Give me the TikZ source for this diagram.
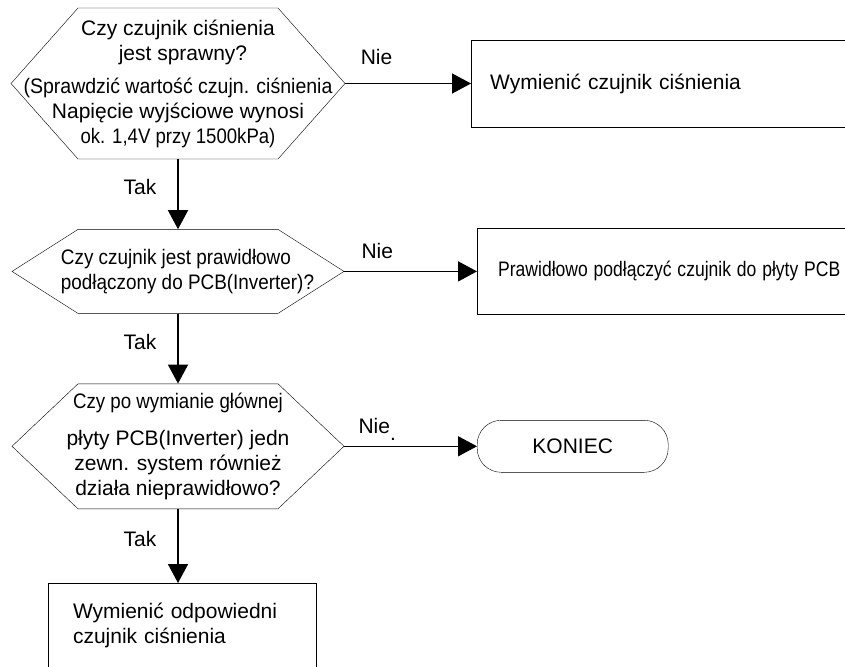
\documentclass[tikz,border=0pt]{standalone}
\usepackage{fontspec}
\setmainfont{Liberation Sans}
\usepackage{graphicx}
\usetikzlibrary{arrows.meta, positioning}
\newcommand{\squeeze}[2]{\scalebox{#1}[1]{#2}}
\tikzset{
	node distance = 70pt,
	line width = 1.3pt,
	>={Triangle[length=19pt, width=20pt]},
	font = \fontsize{21}{25}\selectfont,
	check/.style={
		minimum width=200pt,
		inner sep=0pt,
		align=center
	},
	box/.style={
		draw,
		rectangle,
		minimum width=400pt,
		inner xsep=19pt,
		text width=362pt,
		align=left
	},
	stopbox/.style={
		draw,
		rounded corners=24pt,
		minimum width=191pt,
		minimum height=52pt
	},
	edge/.style={
		->,
		line width=1.5pt
	}
}

\begin{document}
\begin{tikzpicture}
	\useasboundingbox (0,0) rectangle (845pt,-666pt);

	\node[check, minimum height=151pt] at (178pt,-83.5pt) (q1) {Czy czujnik ciśnienia\\
		\hspace*{10pt}jest sprawny?\\[8pt]
		\squeeze{0.93}{(Sprawdzić wartość czujn. ciśnienia}\\
		Napięcie wyjściowe wynosi\\
		\squeeze{0.885}{ok. 1,4V przy 1500kPa)}};
	\node[check, minimum height=84pt, align=left, below=of q1] (q2) {\hspace*{19pt}\squeeze{0.9}{Czy czujnik jest prawidłowo}\\
		\hspace*{19pt}\squeeze{0.9}{podłączony do PCB(Inverter)?}};
	\node[check, minimum height=125pt, below=of q2] (q3) {\squeeze{0.89}{Czy po wymianie głównej}\\[12pt]
		płyty PCB(Inverter) jedn\\
		zewn. system również\\
		działa nieprawidłowo?};

	% hexagon outlines round the questions
	\foreach \n/\h/\d in {q1/75.5/67, q2/42/66, q3/62.5/66} {
		\draw (\n.center) ++(-100pt,\h pt) -- ++(200pt,0) -- ++(\d pt,-\h pt) coordinate (\n-r)
			-- ++(-\d pt,-\h pt) -- ++(-200pt,0) -- ++(-\d pt,\h pt) -- cycle;
	}

	\node[box, minimum height=87pt, right=126pt of q1-r] (b1) {Wymienić czujnik ciśnienia};
	\node[box, minimum height=86pt, inner xsep=21pt, text width=358pt, right=133pt of q2-r] (b2) {\squeeze{0.835}{Prawidłowo podłączyć czujnik do płyty PCB}};
	\node[stopbox, right=133pt of q3-r] (stop) {KONIEC};
	\node[box, minimum width=268pt, inner xsep=25pt, text width=218pt, inner ysep=20pt,
		text height=15pt, text depth=70pt, below=74pt of q3, xshift=4pt] (b4) {Wymienić odpowiedni\\czujnik ciśnienia};

	\foreach \a/\b in {q1/q2, q2/q3, q3/b4} {
		\draw[edge] (\a) -- (\a |- \b.north) node[pos=.4, left=21pt, inner sep=0pt] {Tak};
	}
	\foreach \a/\b/\d/\t in {q1/b1/18/Nie, q2/b2/11.5/Nie, q3/stop/11.5/{Nie\smash{\raisebox{-7pt}{.}}}} {
		\draw[edge] (\a-r) -- (\a-r -| \b.west) node[pos=.25, above=\d pt, inner sep=0pt] {\t};
	}
\end{tikzpicture}
\end{document}
